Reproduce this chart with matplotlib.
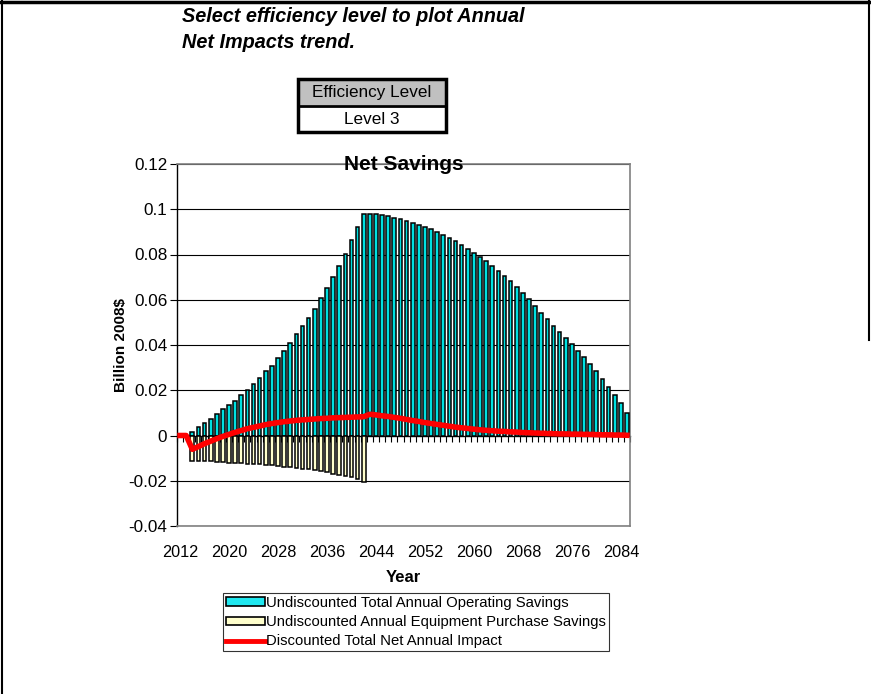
import numpy as np
import matplotlib
matplotlib.use('Agg')
from matplotlib import pyplot as plt
from matplotlib.lines import Line2D
from matplotlib.patches import Patch, Rectangle

plt.rcParams['font.family'] = ['Liberation Sans', 'DejaVu Sans']

# years on the category axis
years = list(range(2012, 2086))
tick_years = list(range(2012, 2086, 8))

# undiscounted total annual operating savings (2014..2085)
op_years = list(range(2014, 2086))
op_savings = [
    0.0017, 0.0036, 0.0054, 0.0074, 0.0097, 0.0117, 0.0135, 0.0154, 0.0178, 0.0203,
    0.0228, 0.0253, 0.0284, 0.0309, 0.0344, 0.0375, 0.0410, 0.0447, 0.0483, 0.0521,
    0.0561, 0.0606, 0.0652, 0.0701, 0.0749, 0.0804, 0.0863, 0.0920, 0.0981, 0.0981,
    0.0979, 0.0974, 0.0968, 0.0960, 0.0955, 0.0949, 0.0941, 0.0932, 0.0922, 0.0911,
    0.0901, 0.0888, 0.0874, 0.0861, 0.0844, 0.0826, 0.0808, 0.0791, 0.0771, 0.0749,
    0.0729, 0.0704, 0.0682, 0.0657, 0.0630, 0.0602, 0.0574, 0.0543, 0.0514, 0.0486,
    0.0458, 0.0431, 0.0405, 0.0375, 0.0346, 0.0315, 0.0285, 0.0248, 0.0215, 0.0178,
    0.0142, 0.0101,
]

# undiscounted annual equipment purchase savings (2014..2042)
eq_years = list(range(2014, 2043))
eq_savings = [
    -0.0111, -0.0111, -0.0114, -0.0114, -0.0117, -0.0119, -0.0120, -0.0122, -0.0123, -0.0125,
    -0.0126, -0.0128, -0.0129, -0.0132, -0.0135, -0.0138, -0.0141, -0.0144, -0.0147, -0.0150,
    -0.0154, -0.0158, -0.0163, -0.0169, -0.0175, -0.0179, -0.0185, -0.0192, -0.0204,
]

# discounted total net annual impact (2012..2085)
net_impact = [
    0.0, 0.0, -0.0061, -0.0049, -0.0036, -0.0025, -0.0014, -0.0004, 0.0005, 0.0014,
    0.0022, 0.0030, 0.0036, 0.0042, 0.0048, 0.0053, 0.0057, 0.0061, 0.0064, 0.0067,
    0.0069, 0.0071, 0.0073, 0.0075, 0.0076, 0.0078, 0.0079, 0.0080, 0.0081, 0.0082,
    0.0083, 0.0094, 0.0091, 0.0087, 0.0084, 0.0080, 0.0076, 0.0071, 0.0066, 0.0062,
    0.0057, 0.0053, 0.0049, 0.0045, 0.0041, 0.0037, 0.0034, 0.0031, 0.0028, 0.0025,
    0.0023, 0.0021, 0.0019, 0.0018, 0.0016, 0.0015, 0.0013, 0.0012, 0.0011, 0.0010,
    0.0009, 0.0008, 0.0007, 0.0007, 0.0006, 0.0006, 0.0005, 0.0005, 0.0004, 0.0003,
    0.0003, 0.0002, 0.0002, 0.0001,
]

y_ticks = [-0.04, -0.02, 0, 0.02, 0.04, 0.06, 0.08, 0.1, 0.12]

W, H = 871, 694
fig = plt.figure(figsize=(W / 100, H / 100), dpi=100)


def fx(px):
    return px / W


def fy(py):
    return 1 - py / H


# page borders
fig.add_artist(Line2D([0, 1], [fy(1.5), fy(1.5)], color='black', lw=2.5))
fig.add_artist(Line2D([fx(2), fx(2)], [0, 1], color='black', lw=1.5))
fig.add_artist(Line2D([fx(869), fx(869)], [fy(340), 1], color='black', lw=1.5))

# heading
fig.text(fx(182), fy(17), 'Select efficiency level to plot Annual', fontsize=14.3,
         fontweight='bold', fontstyle='italic', va='center', ha='left')
fig.text(fx(182), fy(42), 'Net Impacts trend.', fontsize=14.3,
         fontweight='bold', fontstyle='italic', va='center', ha='left')

# efficiency level selector box
fig.add_artist(Rectangle((fx(298), fy(105)), fx(446) - fx(298), fy(79) - fy(105),
                         facecolor='#C0C0C0', edgecolor='none'))
fig.add_artist(Rectangle((fx(298), fy(132)), fx(446) - fx(298), fy(79) - fy(132),
                         facecolor='none', edgecolor='black', lw=2.5))
fig.add_artist(Line2D([fx(298), fx(446)], [fy(106), fy(106)], color='black', lw=2))
fig.text(fx(372), fy(92), 'Efficiency Level', fontsize=12.3, ha='center', va='center')
fig.text(fx(372), fy(119), 'Level 3', fontsize=12.3, ha='center', va='center')

# chart
ax = fig.add_axes([fx(177), fy(526), fx(630) - fx(177), fy(164) - fy(526)])
x_all = np.arange(len(years))
x_op = np.array([years.index(y) for y in op_years])
x_eq = np.array([years.index(y) for y in eq_years])

bw = 0.6
ax.bar(x_op, op_savings, width=bw, color='#00E0E0', edgecolor='black', lw=1.1, zorder=3)
ax.bar(x_eq, eq_savings, width=bw, color='#FFFFCC', edgecolor='black', lw=1.1, zorder=3)
ax.plot(x_all, net_impact, color='#FF0000', lw=4, solid_capstyle='projecting', zorder=5)

ax.set_xlim(-0.5, len(years) - 0.5)
ax.set_ylim(-0.04, 0.12)
ax.set_yticks(y_ticks)
ax.set_yticklabels(['{:g}'.format(v) for v in y_ticks], fontsize=12.3)
ax.tick_params(axis='y', direction='out', length=5, width=0.8, color='black', pad=2)
ax.yaxis.grid(True, color='black', lw=0.8)
ax.set_axisbelow(True)

ax.set_xticks([years.index(y) for y in tick_years])
ax.set_xticklabels([str(y) for y in tick_years], fontsize=11.7)
ax.tick_params(axis='x', length=0, pad=14)

for side in ['top', 'right', 'bottom']:
    ax.spines[side].set_color('#808080')
    ax.spines[side].set_linewidth(1.2)
ax.spines['left'].set_color('black')
ax.spines['left'].set_linewidth(1.0)

# category axis crossing at zero
zero_ax = ax.secondary_xaxis(0, transform=ax.transData)
zero_ax.set_xticks(np.arange(len(years) + 1) - 0.5)
zero_ax.set_xticklabels([])
zero_ax.tick_params(axis='x', direction='out', length=4, width=0.8, color='black')
zero_ax.spines['bottom'].set_color('#404040')
zero_ax.spines['bottom'].set_linewidth(1.0)

ax.set_ylabel('Billion 2008$', fontsize=11, fontweight='bold', labelpad=0)
ax.set_xlabel('Year', fontsize=12, fontweight='bold', labelpad=7)
ax.text(0.5, 1.0, 'Net Savings', transform=ax.transAxes, fontsize=15,
        fontweight='bold', ha='center', va='center', zorder=6)

handles = [
    Patch(facecolor='#20E8F0', edgecolor='black', lw=1.2),
    Patch(facecolor='#FFFFCC', edgecolor='black', lw=1.2),
    Line2D([0], [0], color='#FF0000', lw=3.5),
]
labels = [
    'Undiscounted Total Annual Operating Savings',
    'Undiscounted Annual Equipment Purchase Savings',
    'Discounted Total Net Annual Impact',
]
leg = fig.legend(handles, labels, loc='upper left', bbox_to_anchor=(fx(223), fy(593)),
                 fontsize=10.7, frameon=True, fancybox=False, edgecolor='black',
                 handlelength=2.6, handleheight=0.5, handletextpad=0.1,
                 labelspacing=0.35, borderpad=0.2, borderaxespad=0)
leg.get_frame().set_linewidth(0.8)

fig.savefig('out.png', dpi=100)
